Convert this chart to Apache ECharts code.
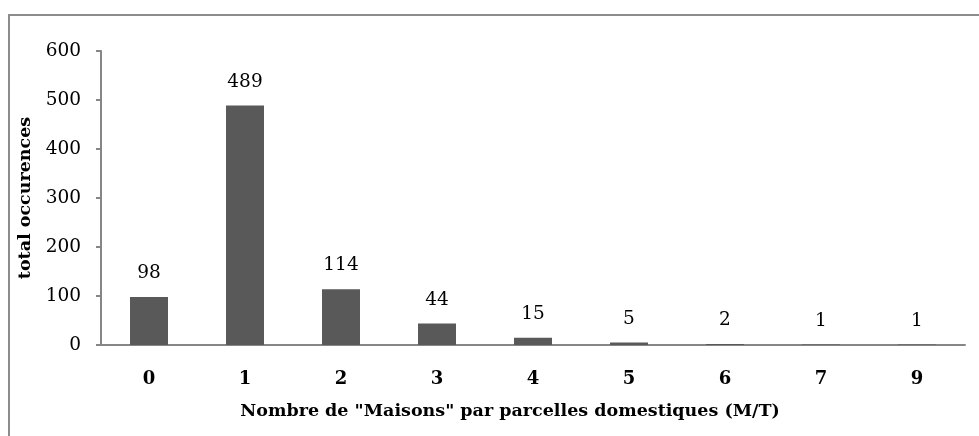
<!DOCTYPE html>
<html>
<head>
<meta charset="utf-8">
<script src="https://cdn.jsdelivr.net/npm/echarts@6/dist/echarts.min.js"></script>
<style>
  html, body { margin: 0; padding: 0; background: #fff; }
  #chart { width: 979px; height: 436px; }
</style>
</head>
<body>
<div id="chart"></div>
<script>
// Houses per domestic plot: number of plots for each count
const categories = ['0', '1', '2', '3', '4', '5', '6', '7', '9'];
const occurrences = [98, 489, 114, 44, 15, 5, 2, 1, 1];
const yTicks = { min: 0, max: 600, interval: 100 };

const serif = '"DejaVu Serif", "Liberation Serif", serif';
const axisGray = '#868686';

const chart = echarts.init(document.getElementById('chart'), null, { renderer: 'canvas' });
chart.setOption({
  animation: false,
  backgroundColor: '#ffffff',
  grid: { left: 101, right: 14, top: 51, bottom: 91, containLabel: false },
  graphic: [{
    type: 'rect',
    shape: { x: 9, y: 15, width: 1000, height: 500 },
    style: { fill: 'none', stroke: '#8c8c8c', lineWidth: 2 },
    silent: true
  }],
  xAxis: {
    type: 'category',
    data: categories,
    name: 'Nombre de "Maisons" par parcelles domestiques (M/T)',
    nameLocation: 'middle',
    nameGap: 57,
    nameTextStyle: {
      fontFamily: serif, fontWeight: 'bold', fontSize: 17.5, color: '#000',
      padding: [0, 46, 0, 0]
    },
    axisLine: { lineStyle: { color: axisGray, width: 2 } },
    axisTick: { show: false },
    axisLabel: { fontFamily: serif, fontWeight: 'bold', fontSize: 18, color: '#000', margin: 25 }
  },
  yAxis: {
    type: 'value',
    min: yTicks.min, max: yTicks.max, interval: yTicks.interval,
    name: 'total occurences',
    nameLocation: 'middle',
    nameGap: 63,
    nameTextStyle: { fontFamily: serif, fontWeight: 'bold', fontSize: 17.5, color: '#000' },
    axisLine: { show: true, lineStyle: { color: axisGray, width: 2 } },
    axisTick: { show: true, length: 5, lineStyle: { color: axisGray, width: 2 } },
    splitLine: { show: false },
    axisLabel: { fontFamily: serif, fontSize: 18.5, color: '#000', margin: 20 }
  },
  series: [{
    type: 'bar',
    data: occurrences,
    barWidth: 38,
    itemStyle: { color: '#595959' },
    label: {
      show: true, position: 'top', distance: 14,
      fontFamily: serif, fontSize: 18.5, color: '#000'
    }
  }]
});
</script>
</body>
</html>
